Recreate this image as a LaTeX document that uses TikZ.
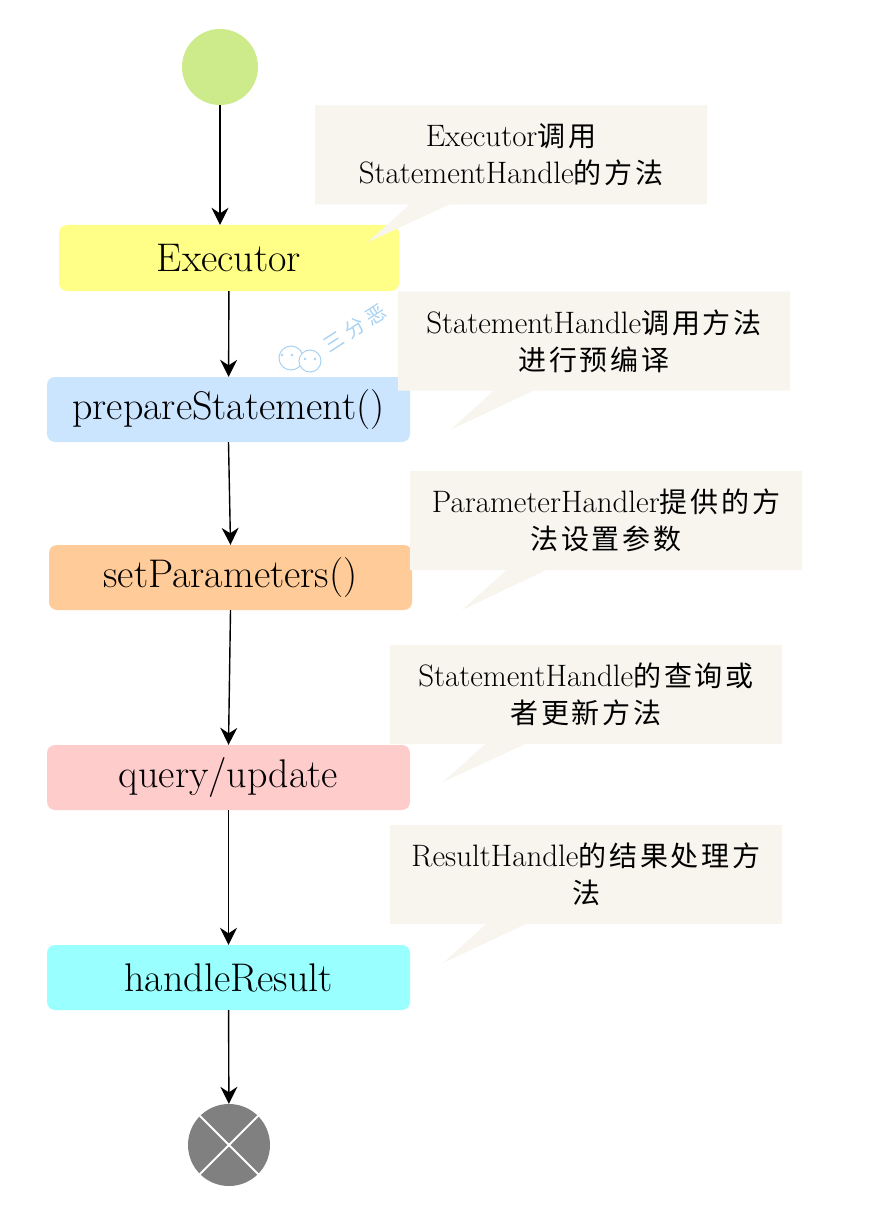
\documentclass[tikz,border=0pt]{standalone}
\usepackage{fontspec}
\newfontfamily\cjk[LetterSpace=10]{Noto Sans CJK SC}
\newfontfamily\markfont[LetterSpace=25]{Noto Sans CJK SC}
\usetikzlibrary{arrows.meta,positioning,shapes.callouts}
\definecolor{startgreen}{HTML}{CDEB8B}
\definecolor{execyellow}{HTML}{FFFF88}
\definecolor{prepblue}{HTML}{CCE5FF}
\definecolor{paramorange}{HTML}{FFCC99}
\definecolor{querypink}{HTML}{FFCCCC}
\definecolor{resultcyan}{HTML}{99FFFF}
\definecolor{notebeige}{HTML}{F7F5EE}
\definecolor{endgray}{HTML}{808080}
\definecolor{markblue}{HTML}{A8D2F2}
\tikzset{
    method box/.style={rectangle, rounded corners=8pt, fill=#1, minimum width=363pt,
        minimum height=65pt, inner sep=0pt, font=\fontsize{40}{44}\selectfont},
    note/.style={rectangle callout, fill=notebeige, minimum width=392pt, minimum height=99pt,
        callout pointer width=40pt, align=center, inner sep=0pt,
        font=\fontsize{31}{37}\selectfont},
    arr/.style={-{Stealth[length=17pt,width=17pt]}, line width=1.4pt},
}
\newcommand{\zh}[1]{{\cjk\fontsize{28}{37}\selectfont #1}}

\begin{document}
\begin{tikzpicture}[x=1pt,y=-1pt]
        \useasboundingbox (0,0) rectangle (872,1206);

        % start and end
        \node[circle, fill=startgreen, minimum size=76pt, inner sep=0pt] (start) at (220,67) {};
        \node[circle, fill=endgray, minimum size=82pt, inner sep=0pt] (stop) at (229,1145) {};
        \draw[white, line width=2pt] (stop.north west) -- (stop.south east);
        \draw[white, line width=2pt] (stop.north east) -- (stop.south west);

        % method boxes
        \node[method box=execyellow, minimum width=340pt, minimum height=66pt] (exec) at (229,258) {Executor};
        \node[method box=prepblue] (prep) at (228.5,409.5) {prepareStatement()};
        \node[method box=paramorange] (param) at (230.5,577.5) {setParameters()};
        \node[method box=querypink] (query) at (228.5,777.5) {query/update};
        \node[method box=resultcyan] (result) at (228.5,977.5) {handleResult};

        \draw[arr] (start) -- (start |- exec.north);
        \draw[arr] (exec) -- (prep);
        \draw[arr] (prep.south) -- (param.north);
        \draw[arr] (param.south) -- (query.north);
        \draw[arr] (query) -- (result);
        \draw[arr] (result) -- (stop);

        % notes
        \coordinate (tip1) at (368,242);
        \coordinate (tip2) at (450,430);
        \coordinate (tip3) at (462,610);
        \coordinate (tip4) at (443,782);
        \coordinate (tip5) at (443,963);
        \node[note, callout absolute pointer={(tip1)}] (note1) at (511,155)
            {Executor\zh{调用}\\StatementHandle\zh{的方法}};
        \node[note, callout absolute pointer={(tip2)}] (note2) at (594,341)
            {StatementHandle\zh{调用方法}\\\zh{进行预编译}};
        \node[note, callout absolute pointer={(tip3)}] (note3) at (606,520.5)
            {ParameterHandler\zh{提供的方}\\\zh{法设置参数}};
        \node[note, callout absolute pointer={(tip4)}] (note4) at (586,694.5)
            {StatementHandle\zh{的查询或}\\\zh{者更新方法}};
        \node[note, callout absolute pointer={(tip5)}] (note5) at (586,874.5)
            {ResultHandle\zh{的结果处理方}\\\zh{法}};

        % watermark
        \draw[markblue, line width=1pt] (291,358) circle (12pt);
        \draw[markblue, line width=1pt, fill=white] (310,361) circle (11pt);
        \foreach \dx in {-5,5} {
            \fill[markblue] (287+\dx,355) circle (1.3pt);
            \fill[markblue] (310+\dx,359) circle (1.3pt);
        }
        \node[markblue, rotate=33, font=\markfont\fontsize{20}{20}\selectfont] (mark) at (355,328) {三分恶};
    \end{tikzpicture}
\end{document}
